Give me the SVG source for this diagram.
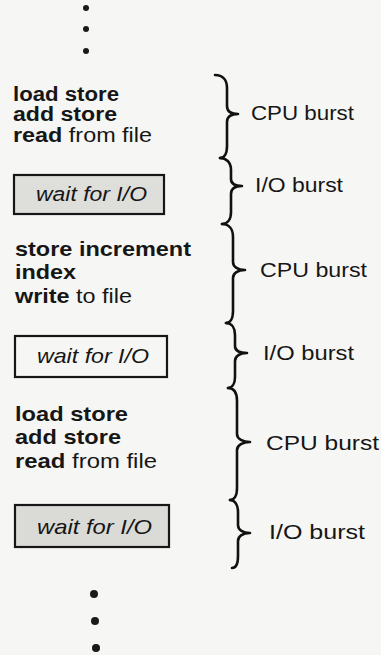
<svg xmlns="http://www.w3.org/2000/svg" width="381" height="655" viewBox="0 0 381 655">
  <style>
    .code { font-family: "Liberation Sans", Arial, sans-serif; font-size: 20px; fill: #161616; }
    .b { font-weight: bold; }
    .wait { font-family: "Liberation Sans", Arial, sans-serif; font-size: 20px; font-style: italic; fill: #161616; }
    .label { font-family: "Liberation Sans", Arial, sans-serif; font-size: 19.5px; fill: #161616; }
    .box { stroke: #161616; stroke-width: 2.2; }
    .brace { fill: none; stroke: #111; stroke-width: 2.6; stroke-linecap: round; stroke-linejoin: round; }
    .dot { fill: #1a1a1a; }
  </style>

  <rect x="0" y="0" width="381" height="655" fill="#f6f6f4"/>

  <!-- leading ellipsis -->
  <g id="dots-top">
    <circle class="dot" cx="86" cy="8" r="3"/>
    <circle class="dot" cx="86" cy="29" r="3"/>
    <circle class="dot" cx="86" cy="51" r="3"/>
  </g>

  <!-- first CPU burst -->
  <g id="code-1">
    <text class="code b" x="13" y="101" textLength="106" lengthAdjust="spacingAndGlyphs">load store</text>
    <text class="code b" x="13" y="121" textLength="104" lengthAdjust="spacingAndGlyphs">add store</text>
    <text class="code" x="13" y="142" textLength="139" lengthAdjust="spacingAndGlyphs"><tspan class="b">read</tspan> from file</text>
  </g>

  <g id="wait-1">
    <rect class="box" x="14" y="175" width="150" height="39" fill="#dededb"/>
    <text class="wait" x="36" y="201" textLength="111" lengthAdjust="spacingAndGlyphs">wait for I/O</text>
  </g>

  <!-- second CPU burst -->
  <g id="code-2">
    <text class="code b" x="15" y="256" textLength="176" lengthAdjust="spacingAndGlyphs" style="font-size:21px">store increment</text>
    <text class="code b" x="15" y="279" textLength="61" lengthAdjust="spacingAndGlyphs" style="font-size:21px">index</text>
    <text class="code" x="15" y="303" textLength="117" lengthAdjust="spacingAndGlyphs" style="font-size:21px"><tspan class="b">write</tspan> to file</text>
  </g>

  <g id="wait-2">
    <rect class="box" x="15" y="336" width="152" height="41" fill="#f6f6f4"/>
    <text class="wait" x="37" y="363" textLength="112" lengthAdjust="spacingAndGlyphs" style="font-size:21px">wait for I/O</text>
  </g>

  <!-- third CPU burst -->
  <g id="code-3">
    <text class="code b" x="15" y="421" textLength="113" lengthAdjust="spacingAndGlyphs" style="font-size:21px">load store</text>
    <text class="code b" x="15" y="444" textLength="106" lengthAdjust="spacingAndGlyphs" style="font-size:21px">add store</text>
    <text class="code" x="15" y="468" textLength="142" lengthAdjust="spacingAndGlyphs" style="font-size:21px"><tspan class="b">read</tspan> from file</text>
  </g>

  <g id="wait-3">
    <rect class="box" x="15" y="505" width="154" height="42" fill="#dadad7"/>
    <text class="wait" x="37" y="534" textLength="115" lengthAdjust="spacingAndGlyphs" style="font-size:21px">wait for I/O</text>
  </g>

  <!-- trailing ellipsis -->
  <g id="dots-bottom">
    <circle class="dot" cx="94" cy="594" r="4"/>
    <circle class="dot" cx="95" cy="621" r="4"/>
    <circle class="dot" cx="96" cy="648" r="4"/>
  </g>

  <!-- braces grouping each burst -->
  <g id="braces">
    <path class="brace" d="M215,75 C223,75 227,80 227,88 L227,106 C227,111 231,114 238,114 C231,114 227,117 227,122 L227,146 C227,154 224,158 220,158"/>
    <path class="brace" d="M220,158 C226,158 231,162 231,170 L231,179 C231,184 235,186 242,186 C235,186 231,189 231,194 L231,212 C231,220 227,224 222,224"/>
    <path class="brace" d="M222,224 C229,224 233,229 233,237 L233,262 C233,267 238,270 245,270 C238,270 233,273 233,278 L233,311 C233,319 230,323 226,323"/>
    <path class="brace" d="M226,323 C232,323 235,328 235,335 L235,346 C235,351 240,353 247,353 C240,353 235,356 235,361 L235,377 C235,384 232,388 228,388"/>
    <path class="brace" d="M228,388 C234,388 237,393 237,401 L237,434 C237,439 243,442 250,442 C243,442 237,445 237,450 L237,488 C237,496 234,500 230,500"/>
    <path class="brace" d="M230,500 C235,500 238,505 238,512 L238,525 C238,530 243,533 250,533 C243,533 238,536 238,541 L238,556 C238,564 236,568 232,568"/>
  </g>

  <g id="labels">
    <text class="label" x="251" y="120" textLength="103" lengthAdjust="spacingAndGlyphs">CPU burst</text>
    <text class="label" x="255" y="192" textLength="88" lengthAdjust="spacingAndGlyphs">I/O burst</text>
    <text class="label" x="260" y="277" textLength="107" lengthAdjust="spacingAndGlyphs" style="font-size:20.5px">CPU burst</text>
    <text class="label" x="263" y="360" textLength="91" lengthAdjust="spacingAndGlyphs" style="font-size:20.5px">I/O burst</text>
    <text class="label" x="266" y="450" textLength="113" lengthAdjust="spacingAndGlyphs" style="font-size:20.5px">CPU burst</text>
    <text class="label" x="269" y="539" textLength="96" lengthAdjust="spacingAndGlyphs" style="font-size:20.5px">I/O burst</text>
  </g>
</svg>
